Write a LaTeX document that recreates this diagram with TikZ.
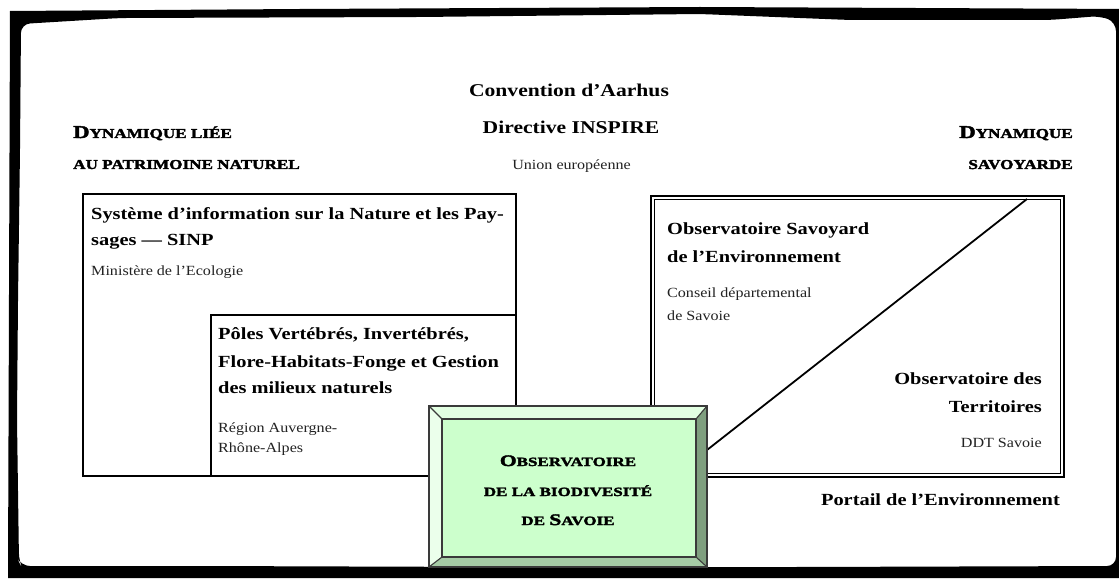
\documentclass[tikz,border=0pt]{standalone}
\usepackage{fontspec}
\setmainfont{Liberation Serif}
\newfontfamily\titlefont[FakeStretch=1.2]{Liberation Serif}
\newfontfamily\bodyfont[FakeStretch=1.15]{Liberation Serif}
\newfontfamily\headfont[FakeStretch=1.26,FakeBold=2.5]{Liberation Serif}
\newfontfamily\obsfont[FakeStretch=1.35,FakeBold=2.5]{Liberation Serif}
\newcommand{\hbig}[1]{{\fontsize{18}{18}\selectfont #1}}
\newcommand{\hsmall}[1]{{\fontsize{13.6}{14}\selectfont #1}}
\newcommand{\gbig}[1]{{\fontsize{16}{16}\selectfont #1}}
\newcommand{\gsmall}[1]{{\fontsize{12.6}{13}\selectfont #1}}
\definecolor{face}{HTML}{CCFFCC}
\definecolor{bevtop}{HTML}{E2FFE2}
\definecolor{bevleft}{HTML}{EBFFEB}
\definecolor{bevright}{HTML}{7F9F7F}
\definecolor{bevbot}{HTML}{A6CCA6}
\definecolor{edge}{HTML}{3A3A3A}
\definecolor{bodytext}{HTML}{222222}
\tikzset{
  ttl/.style={inner sep=0pt, font=\titlefont\bfseries\fontsize{17}{17}\selectfont},
  bigttl/.style={inner sep=0pt, font=\titlefont\bfseries\fontsize{18}{18}\selectfont},
  body/.style={inner sep=0pt, text=bodytext, font=\bodyfont\fontsize{14}{14}\selectfont},
  head/.style={inner sep=0pt, font=\headfont\bfseries},
  obst/.style={inner sep=0pt, font=\obsfont\bfseries},
  boxline/.style={draw=black, line width=1.3pt},
}
\begin{document}
\begin{tikzpicture}[x=1pt,y=-1pt]
\useasboundingbox (0,0) rectangle (1119,580);
\fill[white] (0,0) rectangle (1119,580);

% outer rough frame (outer outline, then inner outline, even-odd fill)
\fill[black, even odd rule]
  (10,11) -- (300,9) -- (700,7) -- (1130,9) -- (1130,578) -- (600,578) -- (8,578) -- cycle
  [rounded corners=9pt]
  (19,562) -- (17,420) -- (18,300) -- (20,150) -- (21,24) -- (120,18) -- (420,17)
  -- (700,14) -- (850,20) -- (1050,20) -- (1100,16) -- (1116,22) -- (1116,566)
  -- (800,567) -- (500,567) -- (200,566) -- (60,566) -- (21,566) -- cycle;

% left boxes
\coordinate (sNW) at (83,194);
\coordinate (sNE) at (516,194);
\coordinate (sSW) at (83,476);
\coordinate (pNW) at (211,315);
\coordinate (pNE) at (516,315);
\coordinate (pSW) at (211,476);
\coordinate (gW) at (429,476);
\coordinate (gN1) at (516,406);
\draw[boxline] (gN1) -- (sNE) -- (sNW) -- (sSW) -- (gW);
\draw[boxline] (pSW) -- (pNW) -- (pNE);

% right box (double border)
\coordinate (rNW) at (651,196);
\coordinate (rNE) at (1064,196);
\coordinate (rSE) at (1064,477);
\coordinate (rS) at (707,477);
\coordinate (rW) at (651,406);
\draw[draw=black, line width=2.4pt] (rW) -- (rNW) -- (rNE) -- (rSE) -- (rS);
\coordinate (riNW) at (654.5,199.5);
\coordinate (riNE) at (1060.5,199.5);
\coordinate (riSE) at (1060.5,473.5);
\coordinate (riS) at (707,473.5);
\coordinate (riW) at (654.5,406);
\draw[draw=black, line width=0.7pt] (riW) -- (riNW) -- (riNE) -- (riSE) -- (riS);
\coordinate (dA) at (707,450);
\coordinate (dB) at (1027,199);
\draw[draw=black, line width=1.8pt] (dA) -- (dB);

% green bevelled box
\coordinate (o1) at (429,406);
\coordinate (o2) at (707,406);
\coordinate (o3) at (707,567);
\coordinate (o4) at (429,567);
\coordinate (i1) at (442,419);
\coordinate (i2) at (696,419);
\coordinate (i3) at (696,557);
\coordinate (i4) at (442,557);
\fill[bevtop] (o1) -- (o2) -- (i2) -- (i1) -- cycle;
\fill[bevleft] (o1) -- (i1) -- (i4) -- (o4) -- cycle;
\fill[bevright] (o2) -- (o3) -- (i3) -- (i2) -- cycle;
\fill[bevbot] (o4) -- (i4) -- (i3) -- (o3) -- cycle;
\fill[face] (i1) rectangle (i3);
\draw[edge, line width=1.3pt] (o1) rectangle (o3);
\draw[edge, line width=1.1pt] (i1) rectangle (i3);
\draw[edge, line width=1.1pt] (o1) -- (i1) (o2) -- (i2) (o3) -- (i3) (o4) -- (i4);

% top centre
\node[bigttl, anchor=base] (conv) at (569,97) {Convention d’Aarhus};
\node[bigttl, anchor=base] (dir) at (571,134) {Directive INSPIRE};
\node[body, anchor=base] (ue) at (571.5,170) {Union européenne};

% side headings
\node[head, anchor=base west] (dl1) at (73,138) {\hbig{D}\hsmall{YNAMIQUE LIÉE}};
\node[head, anchor=base west] (dl2) at (73,169) {\hsmall{AU PATRIMOINE NATUREL}};
\node[head, anchor=base east] (dr1) at (1073,138) {\hbig{D}\hsmall{YNAMIQUE}};
\node[head, anchor=base east] (dr2) at (1073,169) {\hsmall{SAVOYARDE}};

% SINP
\node[ttl, anchor=base west] (s1) at (91,219) {Système d’information sur la Nature et les Pay-};
\node[ttl, anchor=base west] (s2) at (91,245) {sages — SINP};
\node[body, anchor=base west] (s3) at (91,276) {Ministère de l’Ecologie};

% Poles
\node[ttl, anchor=base west] (p1) at (218,339) {Pôles Vertébrés, Invertébrés,};
\node[ttl, anchor=base west] (p2) at (218,367) {Flore-Habitats-Fonge et Gestion};
\node[ttl, anchor=base west] (p3) at (218,393) {des milieux naturels};
\node[body, anchor=base west] (p4) at (218,432) {Région Auvergne-};
\node[body, anchor=base west] (p5) at (218,452) {Rhône-Alpes};

% Observatoire biodiversite
\node[obst, anchor=base] (b1) at (568,466) {\gbig{O}\gsmall{BSERVATOIRE}};
\node[obst, anchor=base] (b2) at (568,496) {\gsmall{DE LA BIODIVESITÉ}};
\node[obst, anchor=base] (b3) at (568,525) {\gsmall{DE }\gbig{S}\gsmall{AVOIE}};

% Observatoire Savoyard
\node[ttl, anchor=base west] (v1) at (667,235) {Observatoire Savoyard};
\node[ttl, anchor=base west] (v2) at (667,262) {de l’Environnement};
\node[body, anchor=base west] (v3) at (667,297) {Conseil départemental};
\node[body, anchor=base west] (v4) at (667,320) {de Savoie};

% Observatoire des Territoires
\node[ttl, anchor=base east] (t1) at (1042,384) {Observatoire des};
\node[ttl, anchor=base east] (t2) at (1042,412) {Territoires};
\node[body, anchor=base east] (t3) at (1042,447) {DDT Savoie};

\node[ttl, anchor=base east] (port) at (1060,505) {Portail de l’Environnement};
\end{tikzpicture}
\end{document}
